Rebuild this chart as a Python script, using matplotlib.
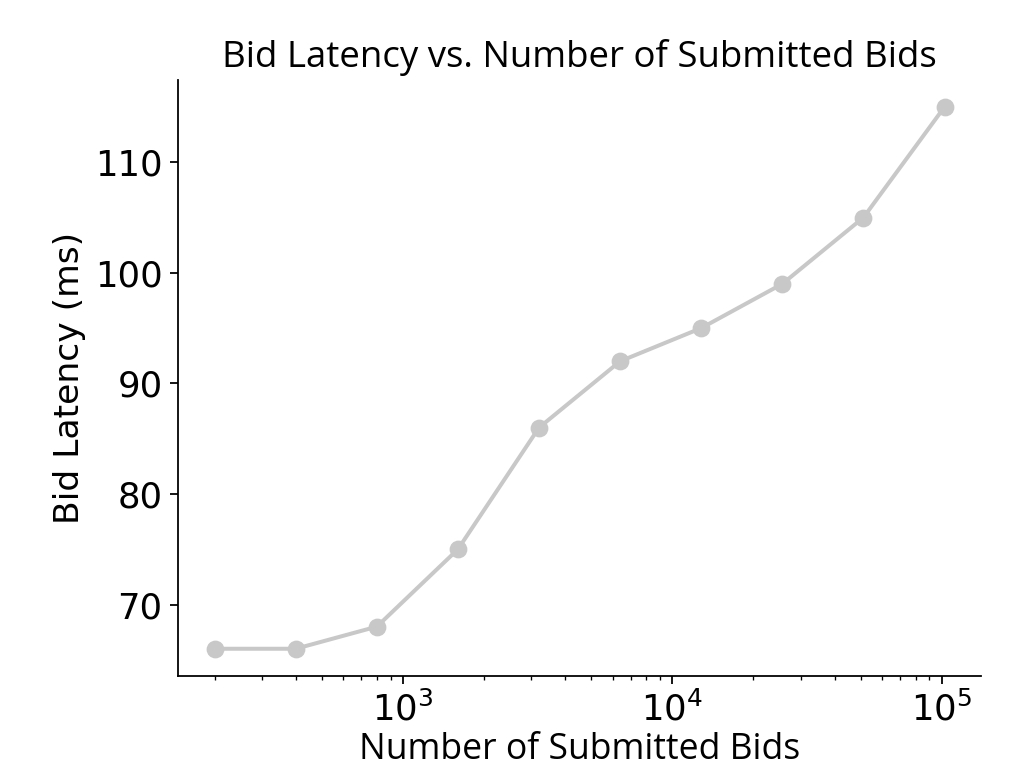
import numpy as np
import matplotlib
matplotlib.use("Agg")
from matplotlib import pyplot as plt

# number of submitted bids and measured bid latency (ms)
num_bids = [200, 400, 800, 1600, 3200, 6400, 12800, 25600, 51200, 102400]
latency_ms = [66, 66, 68, 75, 86, 92, 95, 99, 105, 115]

title = "Bid Latency vs. Number of Submitted Bids"
xlabel = "Number of Submitted Bids"
ylabel = "Bid Latency (ms)"

fig, ax = plt.subplots(figsize=(6.4, 4.8), dpi=160)
ax.plot(num_bids, latency_ms, '-o', color='#c8c8c8', linewidth=1.8, markersize=7)
ax.set_xscale('log')
ax.set_yticks([70, 80, 90, 100, 110])
ax.tick_params(labelsize=16)
ax.spines['top'].set_visible(False)
ax.spines['right'].set_visible(False)
ax.set_title(title, fontsize=16.5, family='Open Sans')
ax.set_xlabel(xlabel, fontsize=16, family='Open Sans', labelpad=2)
ax.set_ylabel(ylabel, fontsize=15.5)
fig.subplots_adjust(left=0.174, right=0.958, top=0.896, bottom=0.120)
fig.savefig("out.png")
